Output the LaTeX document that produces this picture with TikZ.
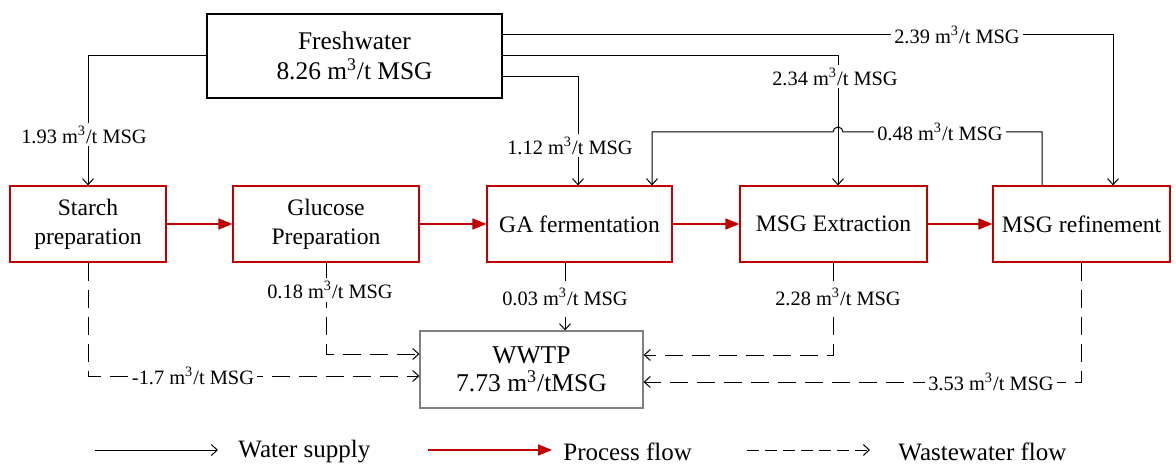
\documentclass[tikz,border=0pt]{standalone}
\usepackage{fontspec}
\setmainfont{Liberation Serif}
\usetikzlibrary{arrows.meta}
\definecolor{procred}{RGB}{192,0,0}
\newcommand{\mcub}{m\textsuperscript{3}}

\begin{document}
\begin{tikzpicture}[x=0.5pt,y=-0.5pt]
    \tikzstyle{arrow} = [line width=0.5pt,-{Straight Barb[length=3pt,width=5.5pt]}]
    \tikzstyle{flow} = [line width=0.8pt,procred,-{Triangle[length=7pt,width=5.5pt]}]
    \tikzstyle{waste} = [arrow,dash pattern=on 9pt off 4.5pt]
    \tikzstyle{keywaste} = [arrow,dash pattern=on 5.75pt off 3.25pt]
    \tikzstyle{process} = [draw=procred, line width=0.6pt, minimum height=38pt, inner sep=0pt, align=center, font=\fontsize{11.8}{14.5}\selectfont]
    \tikzstyle{rate} = [fill=white, inner sep=1.5pt, font=\fontsize{10.2}{12}\selectfont]
    \tikzstyle{legend} = [anchor=west, inner sep=0pt, font=\fontsize{12.5}{15}\selectfont]
    \useasboundingbox (0,0) rectangle (1176,464);

    % Freshwater source on top
    \node [draw, line width=0.6pt, minimum width=147.5pt, minimum height=42pt, align=center, font=\fontsize{12.7}{15}\selectfont] (Fresh) at (354.5,56) {Freshwater\\8.26 \mcub/t MSG};

    % Process chain, left to right
    \node [process, minimum width=78pt] (Starch) at (88,224) {Starch\\preparation};
    \node [process, minimum width=93pt] (Glucose) at (326,224) {Glucose\\Preparation};
    \node [process, minimum width=92.5pt] (GA) at (579.5,224) {GA fermentation};
    \node [process, minimum width=93.5pt] (Extract) at (833.5,224) {MSG Extraction};
    \node [process, minimum width=88.5pt] (Refine) at (1081.5,224) {MSG refinement};
    \draw [flow] (Starch) -- (Glucose);
    \draw [flow] (Glucose) -- (GA);
    \draw [flow] (GA) -- (Extract);
    \draw [flow] (Extract) -- (Refine);

    % Wastewater treatment below
    \node [draw=gray, line width=0.6pt, minimum width=111.5pt, minimum height=38.5pt, align=center, font=\fontsize{12.8}{14}\selectfont] (WWTP) at (531.5,369.5) {WWTP\\7.73 \mcub/tMSG};

    % Water supply lines
    \coordinate (T239) at (1113,35);
    \coordinate (T234) at (838,56);
    \coordinate (T112) at (578,77);
    \draw [arrow] (Fresh.west) -| (Starch.north);
    \draw [arrow] ([yshift=10.5pt]Fresh.east) -- (T239) -- (T239 |- Refine.north);
    \draw [arrow] (Fresh.east) -- (T234) -- (T234 |- Extract.north);
    \draw [arrow] ([yshift=-10.5pt]Fresh.east) -- (T112) -- (T112 |- GA.north);

    % Recycled water, hops over the 2.34 line
    \coordinate (R048) at (1042,132);
    \coordinate (L048) at (652,132);
    \coordinate (Hop) at (838,132);
    \draw [arrow] (R048 |- Refine.north) -- (R048) -- ([xshift=2.5pt]Hop) arc [start angle=0, end angle=180, radius=2.5pt] -- (L048) -- (L048 |- GA.north);

    % Wastewater lines
    \coordinate (SB) at (88,376);
    \coordinate (GB) at (326,354);
    \coordinate (FB) at (565,300);
    \coordinate (EB) at (834,355);
    \coordinate (RB) at (1082,382);
    \draw [waste] (Starch.south) |- (WWTP.west |- SB);
    \draw [waste] (Glucose.south) |- (WWTP.west |- GB);
    \draw [waste] (GA.south -| FB) -- (WWTP.north -| FB);
    \draw [waste] (Extract.south) |- (WWTP.east |- EB);
    \draw [waste] (Refine.south) |- (WWTP.east |- RB);

    % Flow rates
    \node [rate] (r193) at (84,135) {1.93 \mcub/t MSG};
    \node [rate] (r239) at (957,35) {2.39 \mcub/t MSG};
    \node [rate] (r234) at (835,77) {2.34 \mcub/t MSG};
    \node [rate] (r112) at (570,146) {1.12 \mcub/t MSG};
    \node [rate] (r048) at (940,132) {0.48 \mcub/t MSG};
    \node [rate] (r018) at (330,290) {0.18 \mcub/t MSG};
    \node [rate] (r003) at (565,297) {0.03 \mcub/t MSG};
    \node [rate] (r228) at (838,297) {2.28 \mcub/t MSG};
    \node [rate] (r17) at (193,376) {-1.7 \mcub/t MSG};
    \node [rate] (r353) at (991,382) {3.53 \mcub/t MSG};

    % Legend
    \coordinate (KeyWaterA) at (95,450);
    \coordinate (KeyWaterB) at (218,450);
    \coordinate (KeyFlowA) at (428,450);
    \coordinate (KeyFlowB) at (552,450);
    \coordinate (KeyWasteA) at (747,450);
    \coordinate (KeyWasteB) at (870,450);
    \draw [arrow] (KeyWaterA) -- (KeyWaterB);
    \draw [flow] (KeyFlowA) -- (KeyFlowB);
    \draw [keywaste] (KeyWasteA) -- (KeyWasteB);
    \node [legend] (KeyWater) at (238,452) {Water supply};
    \node [legend] (KeyFlow) at (563,452) {Process flow};
    \node [legend] (KeyWaste) at (898,452) {Wastewater flow};
\end{tikzpicture}
\end{document}
